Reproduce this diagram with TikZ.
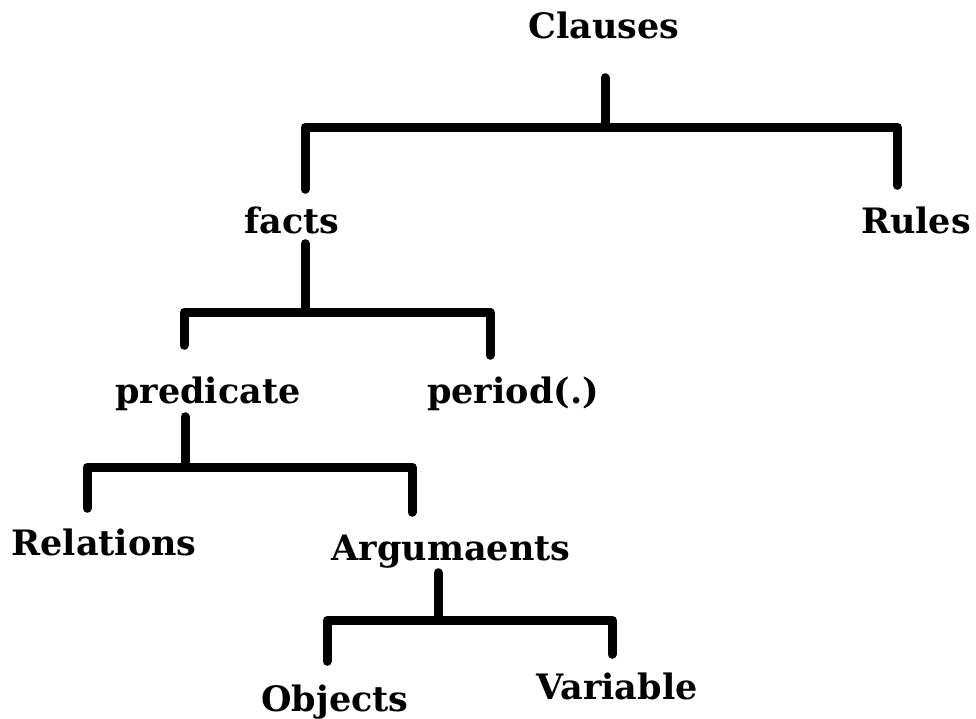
\documentclass[tikz,border=0pt]{standalone}
\usepackage{fontspec}
\setmainfont{DejaVu Serif}
\usetikzlibrary{calc}

\tikzset{
	term/.style={font=\bfseries\fontsize{35}{35}\selectfont, inner sep=0pt, anchor=base, text height=27pt, text depth=8pt},
	branch/.style={line width=9pt, line cap=round, line join=round},
}

\begin{document}
\begin{tikzpicture}[x=1pt, y=-1pt]
	\useasboundingbox (0,0) rectangle (976,718);
	% terms of the tree
	\node[term] (clauses) at (604,38) {Clauses};
	\node[term] (facts) at (292,233) {facts};
	\node[term] (rules) at (916,233) {Rules};
	\node[term] (pred) at (208,403) {predicate};
	\node[term] (period) at (513,403) {period(.)};
	\node[term] (rel) at (104,555) {Relations};
	\node[term] (args) at (451,560) {Argumaents};
	\node[term] (objs) at (335,711) {Objects};
	\node[term] (vars) at (617,699) {Variable};
	% bars
	\coordinate (b1) at (605,127); \coordinate (b1l) at (305,127); \coordinate (b1r) at (897,127);
	\coordinate (b2) at (305,312); \coordinate (b2l) at (184,312); \coordinate (b2r) at (490,312);
	\coordinate (b3) at (185,467); \coordinate (b3l) at (87,467); \coordinate (b3r) at (412,467);
	\coordinate (b4) at (438,620); \coordinate (b4l) at (327,620); \coordinate (b4r) at (612,620);

	\draw[branch] ($(clauses.south -| b1)+(0,31.5)$) -- (b1);
	\draw[branch] ($(facts.north -| b1l)+(0,-16.5)$) -- (b1l) -- (b1r) -- ($(rules.north -| b1r)+(0,-20.5)$);

	\draw[branch] ($(facts.south -| b2)+(0,2.5)$) -- (b2);
	\draw[branch] ($(pred.north -| b2l)+(0,-30.5)$) -- (b2l) -- (b2r) -- ($(period.north -| b2r)+(0,-20.5)$);

	\draw[branch] ($(pred.south -| b3)+(0,5.5)$) -- (b3);
	\draw[branch] ($(rel.north -| b3l)+(0,-19.5)$) -- (b3l) -- (b3r) -- ($(args.north -| b3r)+(0,-20.5)$);

	\draw[branch] ($(args.south -| b4)+(0,4.5)$) -- (b4);
	\draw[branch] ($(objs.north -| b4l)+(0,-22.5)$) -- (b4l) -- (b4r) -- ($(vars.north -| b4r)+(0,-17.5)$);
\end{tikzpicture}
\end{document}
